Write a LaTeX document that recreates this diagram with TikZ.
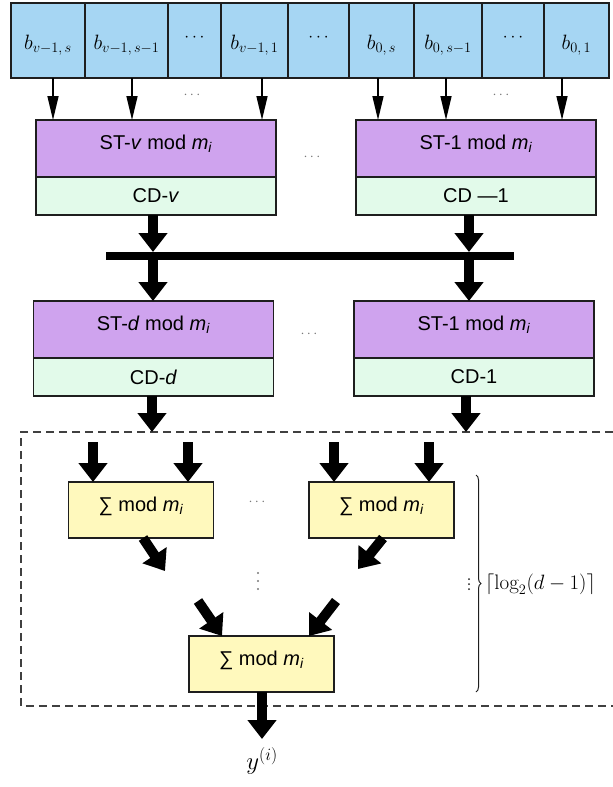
\documentclass[tikz,border=0pt]{standalone}
\usepackage{fontspec}
\usetikzlibrary{arrows.meta,decorations.pathreplacing}
\newfontfamily\sansf{Liberation Sans}
\definecolor{cellblue}{RGB}{166,214,243}
\definecolor{stpurple}{RGB}{207,163,238}
\definecolor{cdgreen}{RGB}{226,250,234}
\definecolor{sumyellow}{RGB}{255,249,189}
\definecolor{edge}{RGB}{30,30,30}
\definecolor{dotgray}{RGB}{120,120,120}
\newcommand{\modm}{mod \textit{m}\textsubscript{\textit{i}}}

\begin{document}
\begin{tikzpicture}[x=1pt,y=-1pt,
  box/.style={draw=edge,line width=1.4pt,inner sep=0pt,outer sep=0pt,
    font=\sansf\fontsize{20}{24}\selectfont},
  cell/.style={box,fill=cellblue,minimum height=75pt,
    font=\fontsize{20}{24}\selectfont,text height=20pt,text depth=3pt},
  dotcell/.style={cell,font=\fontsize{17}{20}\selectfont,text height=6pt,text depth=4pt},
  stbox/.style={box,fill=stpurple,minimum width=240pt,minimum height=57pt,
    text height=13pt,text depth=11pt},
  cdbox/.style={box,fill=cdgreen,minimum width=240pt,minimum height=38pt},
  sumbox/.style={box,fill=sumyellow,minimum width=145pt,minimum height=56pt,
    text height=13pt,text depth=11pt},
  thinarr/.style={line width=1.6pt,-{Triangle[length=24pt,width=11pt]}},
  thickarr/.style={line width=10pt,-{Triangle[length=19pt,width=28pt]}},
  gapdots/.style={text=dotgray,inner sep=0pt,font=\fontsize{14}{16}\selectfont},
  dot/.style={circle,fill=#1,inner sep=0pt,minimum size=2.4pt},
  frame/.style={draw=edge!85,line width=1.6pt,dash pattern=on 8pt off 5pt}
]
\useasboundingbox (0,0) rectangle (613,787);

% input digit cells
\node[cell,minimum width=74pt] (c1) at (48,40.5)    {$b_{v-1,\,s}$};
\node[cell,minimum width=83pt] (c2) at (126.5,40.5) {$b_{v-1,\,s-1}$};
\node[dotcell,minimum width=53pt] (c3) at (194.5,40.5) {$\cdots$};
\node[cell,minimum width=67pt] (c4) at (254.5,40.5) {$b_{v-1,\,1}$};
\node[dotcell,minimum width=61pt] (c5) at (318.5,40.5) {$\cdots$};
\node[cell,minimum width=65pt] (c6) at (381.5,40.5) {$b_{0,\,s}$};
\node[cell,minimum width=68pt] (c7) at (448,40.5)   {$b_{0,\,s-1}$};
\node[dotcell,minimum width=62pt] (c8) at (513,40.5)   {$\cdots$};
\node[cell,minimum width=65pt] (c9) at (576.5,40.5) {$b_{0,\,1}$};

% first stage: ST blocks with their CD parts
\node[stbox] (stv) at (156,148.5) {ST-\textit{v} \modm};
\node[cdbox,anchor=north] (cdv) at (stv.south) {CD-\textit{v}};
\node[stbox] (sta) at (476,148.5) {ST-1 \modm};
\node[cdbox,anchor=north] (cda) at (sta.south) {CD —1};

\node[gapdots] (g1) at (192,95) {$\cdots$};
\node[gapdots] (g2) at (501,95) {$\cdots$};
\node[gapdots] (g3) at (312,157) {$\cdots$};

\draw[thinarr] ([xshift=5pt]c1.south) -- ([xshift=5pt]c1.south |- stv.north);
\draw[thinarr] ([xshift=5.5pt]c2.south) -- ([xshift=5.5pt]c2.south |- stv.north);
\draw[thinarr] ([xshift=7.5pt]c4.south) -- ([xshift=7.5pt]c4.south |- stv.north);
\draw[thinarr] ([xshift=-3.5pt]c6.south) -- ([xshift=-3.5pt]c6.south |- sta.north);
\draw[thinarr] ([xshift=-2pt]c7.south) -- ([xshift=-2pt]c7.south |- sta.north);
\draw[thinarr] ([xshift=-14.5pt]c9.south) -- ([xshift=-14.5pt]c9.south |- sta.north);

% collecting bus
\node[fill=black,inner sep=0pt,outer sep=0pt,minimum width=408pt,minimum height=8pt] (bar) at (310,256) {};

% second stage
\node[stbox] (std) at (153.5,329.5) {ST-\textit{d} \modm};
\node[cdbox,anchor=north] (cdd) at (std.south) {CD-\textit{d}};
\node[stbox] (stb) at (474,329.5) {ST-1 \modm};
\node[cdbox,anchor=north] (cdb) at (stb.south) {CD-1};
\node[gapdots] (g4) at (309,334) {$\cdots$};

\draw[thickarr] ([xshift=-3pt]cdv.south) -- ([xshift=-3pt]cdv.south |- bar.north);
\draw[thickarr] ([xshift=-7pt]cda.south) -- ([xshift=-7pt]cda.south |- bar.north);
\draw[thickarr] ([xshift=-3pt]cdv.south |- bar.south) -- ([xshift=-3pt]cdv.south |- std.north);
\draw[thickarr] ([xshift=-7pt]cda.south |- bar.south) -- ([xshift=-7pt]cda.south |- stb.north);

% adder tree frame
\coordinate (ftl) at (21,432);
\coordinate (fbl) at (21,706);
\draw[frame] (613,432) -- (ftl) -- (fbl) -- (613,706);

\draw[thickarr] ([xshift=-1.5pt]cdd.south) -- ([xshift=-1.5pt]cdd.south |- ftl);
\draw[thickarr] ([xshift=-8pt]cdb.south) -- ([xshift=-8pt]cdb.south |- ftl);

% adders
\node[sumbox] (sl) at (141,510)   {∑ \modm};
\node[sumbox] (sr) at (381.5,510) {∑ \modm};
\node[sumbox] (sb) at (261.5,664) {∑ \modm};
\node[gapdots] (g5) at (257,502) {$\cdots$};
% vertical ellipsis between the adder levels
\foreach \yy [count=\k] in {573,581,589}
  \node[dot=dotgray] (vd\k) at (258,\yy) {};

\coordinate (i1) at (93,442);
\coordinate (i2) at (188,442);
\coordinate (i3) at (334,442);
\coordinate (i4) at (429,442);
\draw[thickarr] (i1) -- (i1 |- sl.north);
\draw[thickarr] (i2) -- (i2 |- sl.north);
\draw[thickarr] (i3) -- (i3 |- sr.north);
\draw[thickarr] (i4) -- (i4 |- sr.north);

\coordinate (dl1) at (165,571);
\coordinate (dr1) at (358,569);
\coordinate (dl2) at (198,601);
\coordinate (dr2) at (336,601);
\draw[thickarr] ([xshift=2pt]sl.south) -- (dl1);
\draw[thickarr] ([xshift=1.5pt]sr.south) -- (dr1);
\draw[thickarr] (dl2) -- ([xshift=-39.5pt]sb.north);
\draw[thickarr] (dr2) -- ([xshift=47.5pt]sb.north);

% output
\node[inner sep=0pt,anchor=north,font=\fontsize{27}{32}\selectfont] (yout) at (262,747) {$y^{(i)}$};
\draw[thickarr] ([xshift=0.5pt]sb.south) -- ([xshift=0.5pt,yshift=8pt]sb.south |- yout.north);

% depth of the adder tree
\draw[edge,line width=1pt,decorate,decoration={brace,amplitude=5pt}] (476,475) -- (476,692);
\foreach \yy [count=\k] in {579,584,589}
  \node[dot=edge,minimum size=2pt] (bd\k) at (469,\yy) {};
\node[inner sep=0pt,anchor=west,font=\fontsize{21}{25}\selectfont] (lg) at (485,584)
  {$\left\lceil\log_2(d-1)\right\rceil$};
\end{tikzpicture}
\end{document}
